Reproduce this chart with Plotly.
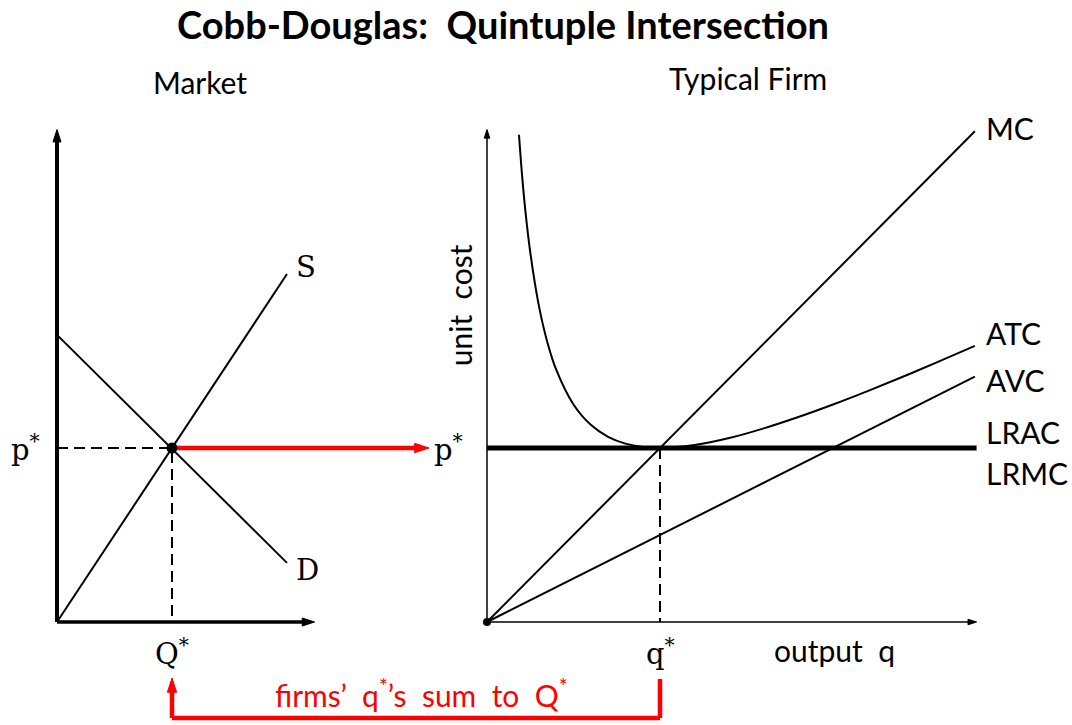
import plotly.graph_objects as go

# ---------------- data ----------------
# Market panel (quantity Q, price p)
Q_star = 1.0
p_star = 1.0
supply_Q = [0.0, 2.0]
supply_p = [0.0, 2.0]
demand_Q = [0.0, 2.0]
demand_p = [1.65, 0.34]
market_Q_max = 2.24
market_p_max = 2.83

# Typical firm panel (output q, unit cost)
q_star = 1.0
mc_q = [0.0, 2.82]
mc_c = [0.0, 2.82]
avc_q = [0.0, 2.82]
avc_c = [0.0, 1.41]
atc_q = [0.185, 0.2, 0.22, 0.25, 0.3, 0.35, 0.4, 0.5, 0.6, 0.7, 0.8, 0.9, 1.0,
         1.2, 1.4, 1.6, 1.8, 2.0, 2.2, 2.4, 2.6, 2.82]
atc_c = [2.80, 2.60, 2.38, 2.125, 1.817, 1.604, 1.45, 1.25, 1.133, 1.064, 1.025, 1.006, 1.0,
         1.017, 1.057, 1.113, 1.178, 1.25, 1.327, 1.408, 1.492, 1.587]
lrac_q = [0.0, 2.83]
lrac_c = [1.0, 1.0]
firm_q_max = 2.83
firm_c_max = 2.83

# ---------------- layout geometry ----------------
W, H = 1072, 725
mk_ox, mk_sx = 57, 115.0
fm_ox, fm_sx = 487, 173.0
oy, sy = 622, 174.0

x_range = [-mk_ox / mk_sx, (W - mk_ox) / mk_sx]
x2_range = [-fm_ox / fm_sx, (W - fm_ox) / fm_sx]
y_range = [-(H - oy) / sy, oy / sy]


def firm_to_market_x(q):
    return (fm_ox + q * fm_sx - mk_ox) / mk_sx


def px_to_market_x(px):
    return (px - mk_ox) / mk_sx


def py_to_y(py):
    return (oy - py) / sy


SERIF = "DejaVu Serif, Liberation Serif, serif"
SANS = "Lato, Open Sans, sans-serif"

fig = go.Figure()
DASH = "11px,6px"


def line(x, y, xa, width=2, color="black", dash=None, shape=None):
    ln = dict(color=color, width=width)
    if dash:
        ln["dash"] = dash
    if shape:
        ln["shape"] = shape
    fig.add_trace(go.Scatter(x=x, y=y, mode="lines", line=ln, xaxis=xa, yaxis="y", hoverinfo="skip"))


def arrow_line(x, y, xa, width, head, color="black", symbol="arrow"):
    n = len(x)
    fig.add_trace(go.Scatter(
        x=x, y=y, mode="lines+markers", xaxis=xa, yaxis="y", hoverinfo="skip",
        line=dict(color=color, width=width),
        marker=dict(symbol=symbol, angleref="previous", size=[0] * (n - 1) + [head],
                    color=color, opacity=1, line=dict(width=1, color=color)),
        cliponaxis=False))


# market curves
line(supply_Q, supply_p, "x")
line(demand_Q, demand_p, "x")
line([0, Q_star, Q_star], [p_star, p_star, 0], "x", dash=DASH)

# firm curves
line([q_star, q_star], [p_star, 0], "x2", dash=DASH)
line(mc_q, mc_c, "x2")
line(avc_q, avc_c, "x2")
line(atc_q, atc_c, "x2", shape="spline")
line(lrac_q, lrac_c, "x2", width=5)

# axes with arrowheads
arrow_line([0, 0], [0, market_p_max], "x", 4, 13)
arrow_line([0, market_Q_max], [0, 0], "x", 3.5, 13)
arrow_line([0, 0], [0, firm_c_max], "x2", 1.5, 9)
arrow_line([0, firm_q_max], [0, 0], "x2", 1.5, 9)

# red arrow market p* -> firm p*
arrow_line([Q_star, px_to_market_x(429)], [p_star, p_star], "x", 4.5, 15, color="red")

# red bracket: firm q* down, across, up to market Q*
br_top = py_to_y(679)
br_bot = py_to_y(718)
br_tip = py_to_y(678)
arrow_line([firm_to_market_x(q_star), firm_to_market_x(q_star), Q_star, Q_star],
           [br_top, br_bot, br_bot, br_tip], "x", 4.5, 15, color="red")

# dots
fig.add_trace(go.Scatter(x=[Q_star], y=[p_star], mode="markers", marker=dict(color="black", size=11),
                         xaxis="x", yaxis="y", cliponaxis=False, hoverinfo="skip"))
fig.add_trace(go.Scatter(x=[0], y=[0], mode="markers", marker=dict(color="black", size=8),
                         xaxis="x2", yaxis="y", cliponaxis=False, hoverinfo="skip"))

ann = []


def label(x, y, text, xref, size, font=SERIF, xanchor="center", yanchor="middle", color="black", **kw):
    ann.append(dict(x=x, y=y, xref=xref, yref="y", text=text, showarrow=False,
                    xanchor=xanchor, yanchor=yanchor,
                    font=dict(family=font, size=size, color=color), **kw))


label(-0.13, p_star, "p<sup>*</sup>", "x", 29, xanchor="right")
label(Q_star, py_to_y(652), "Q<sup>*</sup>", "x", 29)
label(supply_Q[1] + 0.06, supply_p[1] + 0.04, "S", "x", 29, xanchor="left")
label(demand_Q[1] + 0.06, demand_p[1] - 0.04, "D", "x", 29, xanchor="left")

label(-0.13, p_star, "p<sup>*</sup>", "x2", 29, xanchor="right")
label(q_star, py_to_y(652), "q<sup>*</sup>", "x2", 29)
label(firm_q_max + 0.04, py_to_y(128), "MC", "x2", 30, font=SANS, xanchor="left")
label(firm_q_max + 0.04, py_to_y(333), "ATC", "x2", 30, font=SANS, xanchor="left")
label(firm_q_max + 0.04, py_to_y(380), "AVC", "x2", 30, font=SANS, xanchor="left")
label(firm_q_max + 0.04, py_to_y(432), "LRAC", "x2", 30, font=SANS, xanchor="left")
label(firm_q_max + 0.04, py_to_y(473), "LRMC", "x2", 30, font=SANS, xanchor="left")
label(2.006, py_to_y(650), "output  q", "x2", 30, font=SANS)
label(-0.155, py_to_y(305), "unit  cost", "x2", 30, font=SANS, textangle=-90)
label(px_to_market_x(421), py_to_y(693), "firms’  q<sup>*</sup>’s  sum  to  Q<sup>*</sup>", "x", 30,
      font=SANS, color="red")

# titles
ann.append(dict(x=503 / W, y=1 - 24 / H, xref="paper", yref="paper",
                text="<b>Cobb-Douglas:  Quintuple Intersection</b>",
                showarrow=False, font=dict(family=SANS, size=38, color="black"),
                xanchor="center", yanchor="middle"))
ann.append(dict(x=200 / W, y=1 - 82 / H, xref="paper", yref="paper", text="Market",
                showarrow=False, font=dict(family=SANS, size=30, color="black"),
                xanchor="center", yanchor="middle"))
ann.append(dict(x=748 / W, y=1 - 78 / H, xref="paper", yref="paper", text="Typical Firm",
                showarrow=False, font=dict(family=SANS, size=30, color="black"),
                xanchor="center", yanchor="middle"))

hidden = dict(visible=False, showgrid=False, zeroline=False, fixedrange=True)
fig.update_layout(
    width=W, height=H, autosize=False,
    margin=dict(l=0, r=0, t=0, b=0),
    paper_bgcolor="white", plot_bgcolor="white",
    showlegend=False,
    xaxis=dict(domain=[0, 1], range=x_range, **hidden),
    xaxis2=dict(domain=[0, 1], range=x2_range, overlaying="x", anchor="y", **hidden),
    yaxis=dict(domain=[0, 1], range=y_range, **hidden),
    annotations=ann,
)

fig.write_html("out.html", config={"displayModeBar": False},
               post_script="document.body.style.margin='0';document.body.style.overflow='hidden';")
